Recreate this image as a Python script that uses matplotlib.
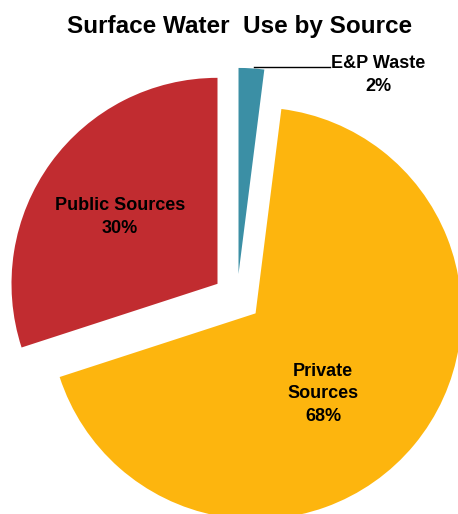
import matplotlib
matplotlib.use("Agg")
import matplotlib.pyplot as plt

categories = ["E&P Waste", "Private Sources", "Public Sources"]
values = [2, 68, 30]
label_texts = ["E&P Waste\n2%", "Private\nSources\n68%", "Public Sources\n30%"]
colors = ["#3B8FA5", "#FDB50E", "#C12C30"]
title = "Surface Water  Use by Source"

W, H = 458, 514
fig = plt.figure(figsize=(W / 100, H / 100), dpi=100)
ax = fig.add_axes([0, 0, 1, 1])

R = 206.0
cx, cy = 237.0, 298.0
ax.pie(values, colors=colors, startangle=90, counterclock=False,
       explode=[0.117] * 3, radius=1.0,
       wedgeprops=dict(linewidth=0))
ax.set_xlim(-cx / R, (W - cx) / R)
ax.set_ylim(-(H - cy) / R, cy / R)
ax.set_aspect("equal")
ax.axis("off")

def d(px, py):
    return ((px - cx) / R, (cy - py) / R)

font = dict(family=["Liberation Sans", "DejaVu Sans"], fontweight="bold",
            fontsize=13, color="black", ha="center", va="center",
            linespacing=1.4)

ax.text(*d(120, 217), label_texts[2], **font)
ax.text(*d(323, 394), label_texts[1], **font)
ax.text(*d(378, 75), label_texts[0], **font)
x0, y0 = d(254, 67)
x1, y1 = d(330, 67)
ax.plot([x0, x1], [y0, y1], color="black", linewidth=1)

fig.text(240 / W, 1 - 26 / H, title, ha="center", va="center",
         fontsize=17.5, fontweight="bold",
         family=["Liberation Sans", "DejaVu Sans"])

fig.savefig("out.png", dpi=100)
